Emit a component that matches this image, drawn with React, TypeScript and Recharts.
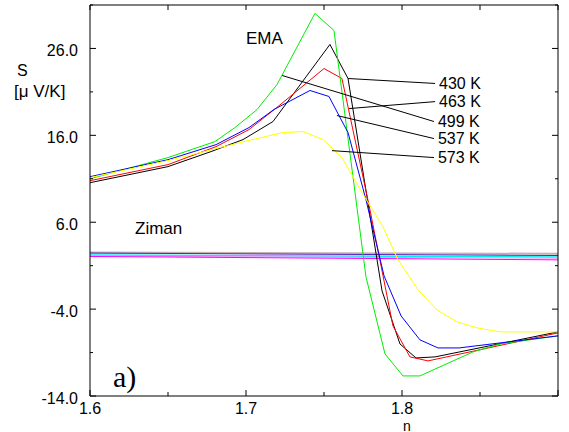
import React from 'react';
import { LineChart, Line, XAxis, YAxis, ReferenceLine, ReferenceDot } from 'recharts';

// EMA curves (430 K .. 573 K)
const n430 = [1.6, 1.65, 1.6776, 1.6981, 1.7173, 1.7538, 1.7654, 1.7872, 1.7987, 1.809, 1.8212, 1.9];
const s430 = [10.55, 12.4, 14.13, 15.51, 17.59, 26.46, 22.54, -1.9, -8.01, -9.62, -9.5, -6.62];

const n463 = [1.6, 1.65, 1.6808, 1.7019, 1.7205, 1.75, 1.7615, 1.7788, 1.7942, 1.8051, 1.8167, 1.9];
const s463 = [10.78, 12.63, 14.7, 16.66, 19.31, 23.69, 22.54, 8.02, -5.93, -9.5, -9.96, -6.74];

const n499 = [1.6, 1.65, 1.6801, 1.6929, 1.7071, 1.7199, 1.7442, 1.7564, 1.7769, 1.7891, 1.8006, 1.8115, 1.8455, 1.8628, 1.9];
const s499 = [11.0, 13.44, 15.28, 16.89, 18.97, 21.85, 30.03, 28.07, -0.28, -9.16, -11.69, -11.69, -8.93, -8.01, -7.08];

const n537 = [1.6, 1.65, 1.6808, 1.7019, 1.7179, 1.741, 1.7532, 1.7596, 1.7654, 1.7769, 1.7885, 1.7994, 1.8115, 1.8231, 1.8365, 1.9];
const s537 = [11.24, 13.2, 14.93, 16.89, 18.97, 21.16, 20.47, 18.28, 16.32, 8.59, -0.17, -4.78, -7.54, -8.47, -8.47, -7.08];

const n573 = [1.6, 1.65, 1.7013, 1.7237, 1.7365, 1.7494, 1.7615, 1.7744, 1.7878, 1.7974, 1.8103, 1.8224, 1.8353, 1.8481, 1.8628, 1.9];
const s573 = [11.13, 13.09, 15.39, 16.32, 16.43, 15.51, 13.44, 9.4, 5.48, 1.68, -1.78, -4.09, -5.47, -6.16, -6.62, -6.62];

// Ziman curves (almost flat)
const nZiman = [1.6, 1.9];
const zimanA = [2.52, 2.37];
const zimanB = [2.45, 2.17];
const zimanC = [2.22, 1.99];
const zimanD = [2.12, 1.85];
const zimanE = [2.06, 1.67];

const xTicks = [1.6, 1.65, 1.7, 1.75, 1.8, 1.85, 1.9];
const xLabelled = [1.6, 1.7, 1.8];
const yTicks = [-14, -9, -4, 1, 6, 11, 16, 21, 26, 31];
const yLabelled = [-14, -4, 6, 16, 26];

// leader lines: [label, from n, from S, to n, to S]
const leaders: [string, number, number, number, number][] = [
  ['430 K', 1.7654, 22.54, 1.8212, 21.97],
  ['463 K', 1.766, 19.08, 1.8212, 19.88],
  ['499 K', 1.7231, 22.89, 1.8205, 17.59],
  ['537 K', 1.7583, 18.28, 1.8205, 15.63],
  ['573 K', 1.7551, 14.24, 1.8205, 13.44],
];

const zip = (ns: number[], ss: number[]) => ns.map((n, i) => ({ n, s: ss[i] }));

const ema = [
  { key: '430', data: zip(n430, s430), color: '#000000' },
  { key: '463', data: zip(n463, s463), color: '#ff0000' },
  { key: '499', data: zip(n499, s499), color: '#00ee00' },
  { key: '537', data: zip(n537, s537), color: '#0000ff' },
  { key: '573', data: zip(n573, s573), color: '#ffff00' },
];

const ziman = [
  { key: 'zA', data: zip(nZiman, zimanA), color: '#c8b0b0', w: 2 },
  { key: 'zB', data: zip(nZiman, zimanB), color: '#5020c0', w: 1 },
  { key: 'zC', data: zip(nZiman, zimanC), color: '#00f0f0', w: 1.5 },
  { key: 'zD', data: zip(nZiman, zimanD), color: '#ff90ff', w: 1 },
  { key: 'zE', data: zip(nZiman, zimanE), color: '#ff00ff', w: 1 },
];

const near = (list: number[], v: number) => list.some(m => Math.abs(m - v) < 1e-6);

const BottomTick = (props: any) => {
  const { x, y, payload } = props;
  const major = near(xLabelled, payload.value) || Math.abs(payload.value - 1.9) < 1e-6;
  return (
    <g>
      <line x1={x} y1={y} x2={x} y2={y - (major ? 6 : 4)} stroke="#000" />
      {near(xLabelled, payload.value) && (
        <text x={x} y={y + 18} textAnchor="middle" fontSize={16} fill="#000">{payload.value.toFixed(1)}</text>
      )}
    </g>
  );
};

const TopTick = (props: any) => {
  const { x, y } = props;
  return <line x1={x} y1={y} x2={x} y2={y + 5} stroke="#000" />;
};

const LeftTick = (props: any) => {
  const { x, y, payload } = props;
  const major = near(yLabelled, payload.value);
  return (
    <g>
      <line x1={x} y1={y} x2={x + (major ? 6 : 3)} y2={y} stroke="#000" />
      {major && (
        <text x={x - 12} y={y + 8} textAnchor="end" fontSize={16} fill="#000">{payload.value.toFixed(1)}</text>
      )}
    </g>
  );
};

const RightTick = (props: any) => {
  const { x, y, payload } = props;
  const major = near(yLabelled, payload.value);
  return <line x1={x} y1={y} x2={x - (major ? 6 : 3)} y2={y} stroke="#000" />;
};

export default function App() {
  return (
    <div style={{ position: 'absolute', left: 0, top: 0, width: 569, height: 432, background: '#fff', fontFamily: '"Liberation Sans", Arial, sans-serif' }}>
      <LineChart width={569} height={432} margin={{ top: 0, right: 0, bottom: 0, left: 0 }}>
        <XAxis xAxisId="b" type="number" dataKey="n" domain={[1.6, 1.9]} ticks={xTicks} allowDataOverflow
          height={36} tickSize={0} tickMargin={0} tickLine={false} axisLine={{ stroke: '#000' }} tick={<BottomTick />} interval={0} />
        <XAxis xAxisId="t" orientation="top" type="number" dataKey="n" domain={[1.6, 1.9]} ticks={xTicks} allowDataOverflow
          height={5} tickSize={0} tickMargin={0} tickLine={false} axisLine={{ stroke: '#555', strokeWidth: 1.5 }} tick={<TopTick />} interval={0} />
        <YAxis yAxisId="l" type="number" domain={[-14, 31]} ticks={yTicks} allowDataOverflow
          width={90} tickSize={0} tickMargin={0} tickLine={false} axisLine={{ stroke: '#000' }} tick={<LeftTick />} interval={0} />
        <YAxis yAxisId="r" orientation="right" type="number" domain={[-14, 31]} ticks={yTicks} allowDataOverflow
          width={11} tickSize={0} tickMargin={0} tickLine={false} axisLine={{ stroke: '#000' }} tick={<RightTick />} interval={0} />

        {ziman.map(z => (
          <Line key={z.key} xAxisId="b" yAxisId="l" data={z.data} dataKey="s" type="linear" stroke={z.color}
            strokeWidth={z.w} dot={false} activeDot={false} isAnimationActive={false} />
        ))}
        {ema.map(c => (
          <Line key={c.key} xAxisId="b" yAxisId="l" data={c.data} dataKey="s" type="linear" stroke={c.color}
            strokeWidth={1} dot={false} activeDot={false} isAnimationActive={false} />
        ))}

        {leaders.map(([label, n1, s1, n2, s2]) => (
          <ReferenceLine key={'l' + label} xAxisId="b" yAxisId="l" segment={[{ x: n1, y: s1 }, { x: n2, y: s2 }]}
            stroke="#000" strokeWidth={1} />
        ))}
        {leaders.map(([label, , , n2, s2]) => (
          <ReferenceDot key={'d' + label} xAxisId="b" yAxisId="l" x={n2} y={s2} r={0} fill="none" stroke="none"
            label={{ value: label, position: 'right', offset: 4, fill: '#000', fontSize: 16 }} />
        ))}
      </LineChart>

      <div style={{ position: 'absolute', left: 17, top: 61, fontSize: 16, lineHeight: '20px' }}>S</div>
      <div style={{ position: 'absolute', left: 14, top: 82, fontSize: 17, lineHeight: '20px' }}>[μ V/K]</div>
      <div style={{ position: 'absolute', left: 246, top: 29, fontSize: 17, lineHeight: '20px' }}>EMA</div>
      <div style={{ position: 'absolute', left: 135, top: 219, fontSize: 17, lineHeight: '20px' }}>Ziman</div>
      <div style={{ position: 'absolute', left: 113, top: 360, fontSize: 30, lineHeight: '34px', fontFamily: '"Liberation Serif", "Times New Roman", serif' }}>a)</div>
      <div style={{ position: 'absolute', left: 403, top: 421, fontSize: 14, lineHeight: '10px' }}>n</div>
    </div>
  );
}
